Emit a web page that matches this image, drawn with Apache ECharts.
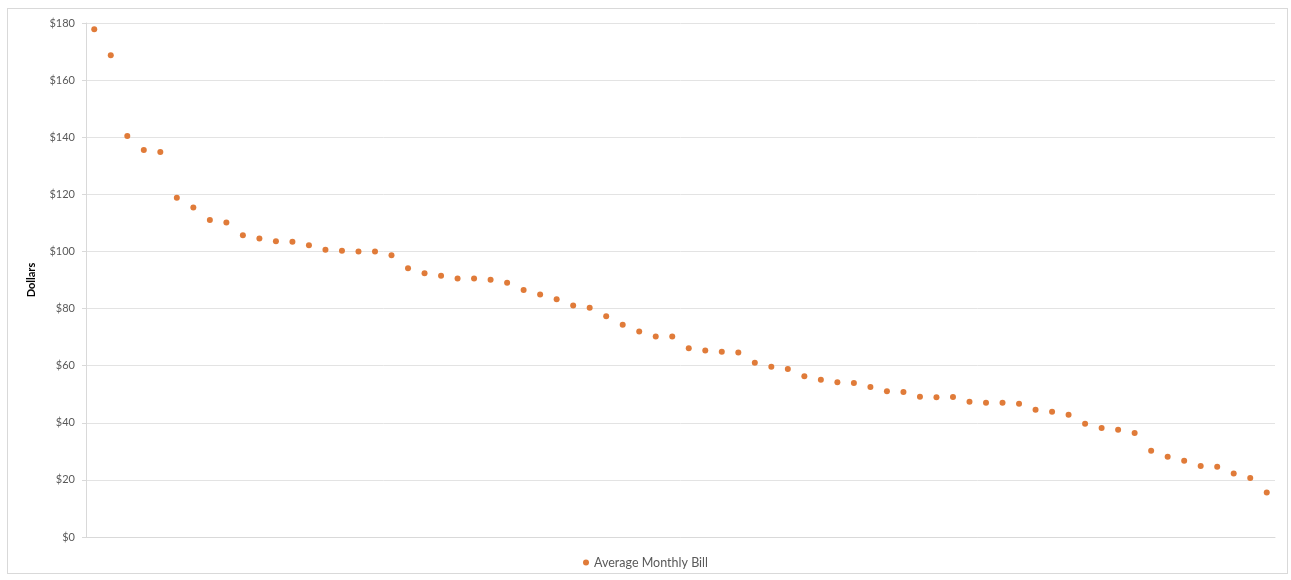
<!DOCTYPE html>
<html>
<head>
<meta charset="utf-8">
<script src="https://cdn.jsdelivr.net/npm/echarts@6/dist/echarts.min.js"></script>
<style>
  html, body { margin: 0; padding: 0; background: #ffffff; }
  #frame { position: absolute; left: 7px; top: 8px; width: 1281px; height: 566px; border: 1px solid #d9d9d9; box-sizing: border-box; }
  #chart { width: 1291px; height: 580px; position: absolute; left: 0; top: 0; }
</style>
</head>
<body>
<div id="frame"></div>
<div id="chart"></div>
<script>
// Average monthly bill per customer, sorted from highest to lowest
const seriesName = 'Average Monthly Bill';
const billValues = [
  177.8, 168.7, 140.4, 135.5, 134.8, 118.8, 115.4, 111.0, 110.1, 105.7,
  104.5, 103.6, 103.4, 102.2, 100.6, 100.2, 100.0, 100.0, 98.7, 94.1,
  92.4, 91.5, 90.5, 90.5, 90.1, 89.0, 86.5, 84.9, 83.3, 81.1,
  80.3, 77.3, 74.3, 72.0, 70.2, 70.2, 66.1, 65.3, 64.9, 64.6,
  61.0, 59.6, 58.8, 56.3, 55.1, 54.2, 53.9, 52.5, 51.0, 50.8,
  49.1, 48.9, 49.0, 47.4, 47.0, 47.0, 46.7, 44.6, 43.9, 42.8,
  39.7, 38.2, 37.6, 36.4, 30.2, 28.1, 26.7, 24.9, 24.6, 22.2,
  20.7, 15.6
];
const categories = billValues.map((_, i) => String(i + 1));
const yTicks = { min: 0, max: 180, step: 20 };
const yAxisTitle = 'Dollars';

const chart = echarts.init(document.getElementById('chart'), null, { renderer: 'canvas' });
const font = 'Lato, "Open Sans", sans-serif';

chart.setOption({
  animation: false,
  backgroundColor: 'transparent',
  grid: { left: 86, right: 16, top: 23, bottom: 43, containLabel: false },
  legend: {
    bottom: 6,
    left: 'center',
    itemWidth: 6,
    itemHeight: 6,
    itemGap: 10,
    textStyle: { fontFamily: font, fontSize: 12.5, color: '#595959' },
    data: [{ name: seriesName, icon: 'circle' }]
  },
  xAxis: {
    type: 'category',
    data: categories,
    boundaryGap: true,
    axisLine: { show: true, lineStyle: { color: '#d9d9d9' } },
    axisTick: { show: false },
    axisLabel: { show: false },
    splitLine: { show: false }
  },
  yAxis: {
    type: 'value',
    min: yTicks.min,
    max: yTicks.max,
    interval: yTicks.step,
    name: yAxisTitle,
    nameLocation: 'middle',
    nameGap: 49,
    nameRotate: 90,
    nameTextStyle: { fontFamily: font, fontSize: 11, fontWeight: 'bold', color: '#000000' },
    axisLine: { show: true, lineStyle: { color: '#d9d9d9' } },
    axisTick: { show: true, length: 4, lineStyle: { color: '#d9d9d9' } },
    axisLabel: {
      fontFamily: font, fontSize: 11, color: '#595959', margin: 11,
      formatter: v => '$' + v
    },
    splitLine: { show: true, lineStyle: { color: '#e3e3e3', width: 1 } }
  },
  series: [{
    name: seriesName,
    type: 'line',
    data: billValues,
    showSymbol: true,
    symbol: 'circle',
    symbolSize: 6,
    lineStyle: { width: 0, opacity: 0 },
    itemStyle: { color: '#E07B39' },
    emphasis: { disabled: true }
  }]
});
</script>
</body>
</html>
